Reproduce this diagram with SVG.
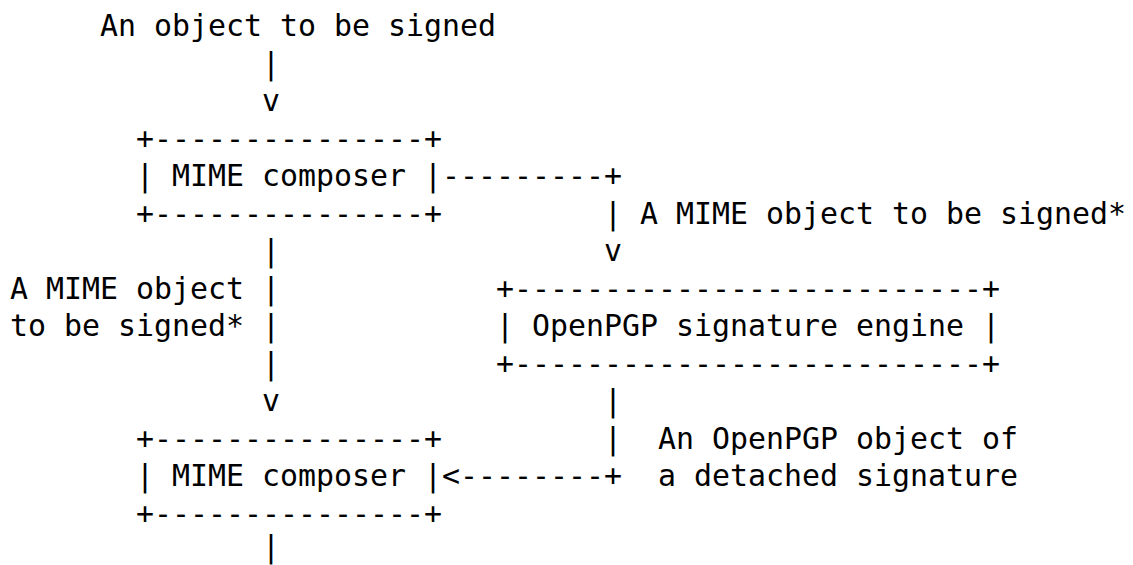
<svg xmlns="http://www.w3.org/2000/svg" width="1133" height="565" viewBox="0 0 1133 565">
<style>
text{font-family:"DejaVu Sans Mono","Liberation Mono",monospace;font-size:29.9px;fill:#000;white-space:pre}
</style>
<rect width="1133" height="565" fill="#fff"/>
<g id="source">
<text x="100" y="36" xml:space="preserve">An object to be signed</text>
</g>
<g id="composer1">
<text x="136" y="148.5">+---------------+</text>
<text x="136" y="186" xml:space="preserve">| MIME composer |</text>
<text x="136" y="223.5">+---------------+</text>
</g>
<g id="engine">
<text x="496" y="298.5">+--------------------------+</text>
<text x="496" y="336" xml:space="preserve">| OpenPGP signature engine |</text>
<text x="496" y="373.5">+--------------------------+</text>
</g>
<g id="composer2">
<text x="136" y="448.5">+---------------+</text>
<text x="136" y="486" xml:space="preserve">| MIME composer |</text>
<text x="136" y="523.5">+---------------+</text>
</g>
<g id="connectors">
<text x="262" y="73.5">|</text>
<text x="262" y="111">v</text>
<text x="442" y="186">---------+</text>
<text x="604" y="223.5">|</text>
<text x="640" y="223.5" xml:space="preserve">A MIME object to be signed*</text>
<text x="604" y="261">v</text>
<text x="262" y="261">|</text>
<text x="262" y="298.5">|</text>
<text x="262" y="336">|</text>
<text x="262" y="373.5">|</text>
<text x="262" y="411">v</text>
<text x="10" y="298.5" xml:space="preserve">A MIME object</text>
<text x="10" y="336" xml:space="preserve">to be signed*</text>
<text x="604" y="411">|</text>
<text x="604" y="448.5">|</text>
<text x="442" y="486">&lt;--------+</text>
<text x="658" y="448.5" xml:space="preserve">An OpenPGP object of</text>
<text x="658" y="486" xml:space="preserve">a detached signature</text>
<text x="262" y="557">|</text>
</g>
</svg>
